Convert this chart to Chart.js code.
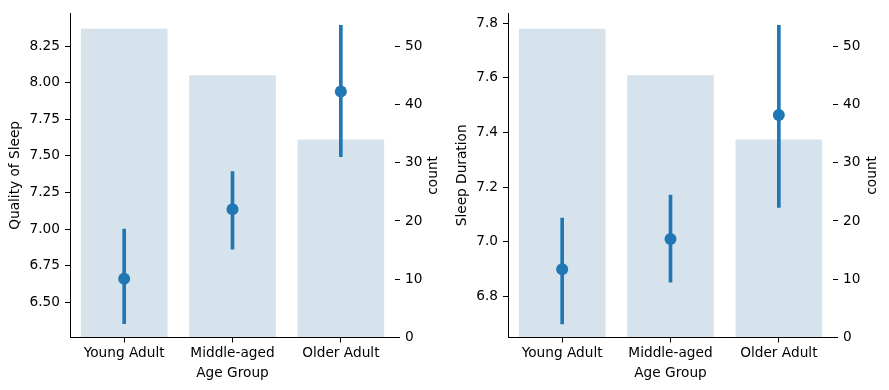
<!DOCTYPE html>
<html lang="en">
<head>
  <meta charset="UTF-8" />
  <title>Sleep by Age Group</title>
  <script src="https://cdn.jsdelivr.net/npm/chart.js"></script>
  <style>
    body {
      margin: 0;
      background: #fff;
      font-family: 'DejaVu Sans', sans-serif;
    }

    .panel {
      position: absolute;
      top: 0;
      height: 390px;
    }

    #left { left: 0; width: 445px; }
    #right { left: 445px; width: 444px; }
  </style>
</head>

<body>
  <div class="panel" id="left"><canvas id="qualityChart"></canvas></div>
  <div class="panel" id="right"><canvas id="durationChart"></canvas></div>

  <script>
    const ageGroups = ['Young Adult', 'Middle-aged', 'Older Adult'];
    const counts = [53, 45, 34];

    const qualityMean = [6.66, 7.135, 7.94];
    const qualityLow = [6.353, 6.863, 7.495];
    const qualityHigh = [6.999, 7.393, 8.393];
    const qualityTicks = [6.50, 6.75, 7.00, 7.25, 7.50, 7.75, 8.00, 8.25];

    const durationMean = [6.90, 7.01, 7.464];
    const durationLow = [6.70, 6.852, 7.126];
    const durationHigh = [7.087, 7.171, 7.792];
    const durationTicks = [6.8, 7.0, 7.2, 7.4, 7.6, 7.8];

    const countTicks = [0, 10, 20, 30, 40, 50];

    const BLUE = '#1f77b4';
    const BAR_BG = '#d6e3ec';
    const FONT = { family: "'DejaVu Sans', sans-serif", size: 13.7 };

    Chart.defaults.color = '#000';
    Chart.defaults.font = FONT;

    // matplotlib puts the twin ylabel bottom-to-top, Chart.js would flip it
    const countLabel = {
      id: 'countLabel',
      afterDraw(chart, args, opts) {
        const s = chart.scales.y1;
        const ctx = chart.ctx;
        ctx.save();
        ctx.translate(s.right - opts.offset, (s.top + s.bottom) / 2);
        ctx.rotate(-Math.PI / 2);
        ctx.font = FONT.size + 'px ' + FONT.family;
        ctx.fillStyle = '#000';
        ctx.textAlign = 'center';
        ctx.textBaseline = 'middle';
        ctx.fillText('count', 0, 0);
        ctx.restore();
      }
    };

    const tickGrid = {
      display: true,
      drawOnChartArea: false,
      drawTicks: true,
      tickLength: 5,
      color: '#000',
      lineWidth: 1
    };

    function makeChart(id, cfg) {
      const ctx = document.getElementById(id).getContext('2d');
      return new Chart(ctx, {
        type: 'bar',
        data: {
          labels: ageGroups,
          datasets: [
            {
              type: 'line',
              data: cfg.mean,
              yAxisID: 'y',
              showLine: false,
              pointRadius: 6,
              pointBorderWidth: 0,
              pointBackgroundColor: BLUE,
              borderColor: BLUE,
              order: 0
            },
            {
              data: cfg.low.map((lo, i) => [lo, cfg.high[i]]),
              yAxisID: 'y',
              backgroundColor: BLUE,
              barThickness: 3,
              grouped: false,
              order: 1
            },
            {
              data: counts,
              yAxisID: 'y1',
              backgroundColor: BAR_BG,
              barPercentage: 0.8,
              categoryPercentage: 1,
              grouped: false,
              order: 2
            }
          ]
        },
        options: {
          responsive: true,
          maintainAspectRatio: false,
          animation: false,
          events: [],
          layout: { padding: { top: 11, bottom: 0, left: 0, right: 0 } },
          plugins: {
            legend: { display: false },
            tooltip: { enabled: false },
            countLabel: { offset: cfg.countOffset }
          },
          scales: {
            x: {
              type: 'category',
              offset: true,
              grid: { ...tickGrid, offset: false },
              border: { display: true, color: '#000', width: 1 },
              ticks: { padding: 3, maxRotation: 0 },
              title: { display: true, text: 'Age Group', padding: { top: 0, bottom: 8 } },
              afterFit(s) { s.height = 52.5; }
            },
            y: {
              position: 'left',
              min: cfg.min,
              max: cfg.max,
              grid: tickGrid,
              border: { display: true, color: '#000', width: 1 },
              ticks: {
                padding: 5,
                callback: v => v.toFixed(cfg.decimals)
              },
              afterBuildTicks(s) { s.ticks = cfg.ticks.map(v => ({ value: v })); },
              title: { display: true, text: cfg.title, padding: { top: cfg.titlePad, bottom: 0 } },
              afterFit(s) { s.width = cfg.leftWidth; }
            },
            y1: {
              position: 'right',
              min: 0,
              max: 55.65,
              grid: tickGrid,
              border: { display: false },
              ticks: { padding: 5 },
              afterBuildTicks(s) { s.ticks = countTicks.map(v => ({ value: v })); },
              afterFit(s) { s.width = cfg.rightWidth; }
            }
          }
        },
        plugins: [countLabel]
      });
    }

    makeChart('qualityChart', {
      mean: qualityMean, low: qualityLow, high: qualityHigh,
      ticks: qualityTicks, decimals: 2,
      min: 6.258, max: 8.476,
      title: 'Quality of Sleep', titlePad: 7,
      leftWidth: 70, rightWidth: 50, countOffset: 12
    });

    makeChart('durationChart', {
      mean: durationMean, low: durationLow, high: durationHigh,
      ticks: durationTicks, decimals: 1,
      min: 6.65, max: 7.836,
      title: 'Sleep Duration', titlePad: 9,
      leftWidth: 63, rightWidth: 56, countOffset: 16.3
    });
  </script>
</body>
</html>
